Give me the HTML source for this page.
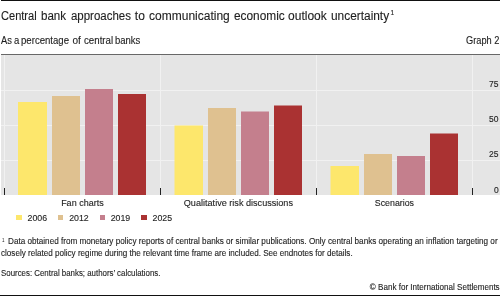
<!DOCTYPE html>
<html><head><meta charset="utf-8">
<style>
html,body{margin:0;padding:0;}
body{width:500px;height:296px;position:relative;overflow:hidden;background:#fff;font-family:"Liberation Sans",sans-serif;color:#1e1e1e;}
.a{position:absolute;white-space:nowrap;line-height:1;filter:grayscale(1);}
.a{-webkit-text-stroke:0.12px currentColor;}
.r{position:absolute;}
</style></head><body>
<div class="r" style="left:1px;top:0;width:499px;height:1px;background:#111;"></div>
<div class="a tw" style="left:0.7px;top:10.2px;font-size:12px;transform:scaleX(0.922);transform-origin:0 0;">Central</div>
<div class="a tw" style="left:41.4px;top:10.2px;font-size:12px;transform:scaleX(0.964);transform-origin:0 0;">bank</div>
<div class="a tw" style="left:71px;top:10.2px;font-size:12px;transform:scaleX(0.955);transform-origin:0 0;">approaches</div>
<div class="a tw" style="left:134.8px;top:10.2px;font-size:12px;transform:scaleX(1);transform-origin:0 0;">to</div>
<div class="a tw" style="left:149.1px;top:10.2px;font-size:12px;transform:scaleX(1);transform-origin:0 0;">communicating</div>
<div class="a tw" style="left:234px;top:10.2px;font-size:12px;transform:scaleX(0.988);transform-origin:0 0;">economic</div>
<div class="a tw" style="left:288.1px;top:10.2px;font-size:12px;transform:scaleX(1);transform-origin:0 0;">outlook</div>
<div class="a tw" style="left:331.2px;top:10.2px;font-size:12px;transform:scaleX(0.99);transform-origin:0 0;">uncertainty</div>
<div class="a tw" style="left:390.6px;top:9.7px;font-size:6.6px;">1</div>
<div class="a sw" style="left:1.1px;top:35.7px;font-size:10px;transform:scaleX(0.93);transform-origin:0 0;">As</div>
<div class="a sw" style="left:13.8px;top:35.7px;font-size:10px;transform:scaleX(0.95);transform-origin:0 0;">a</div>
<div class="a sw" style="left:20.6px;top:35.7px;font-size:10px;transform:scaleX(0.96);transform-origin:0 0;">percentage</div>
<div class="a sw" style="left:72.4px;top:35.7px;font-size:10px;transform:scaleX(1);transform-origin:0 0;">of</div>
<div class="a sw" style="left:84px;top:35.7px;font-size:10px;transform:scaleX(0.97);transform-origin:0 0;">central</div>
<div class="a sw" style="left:115.4px;top:35.7px;font-size:10px;transform:scaleX(0.95);transform-origin:0 0;">banks</div>
<div class="a g2" id="g2" style="left:465.9px;top:35.6px;font-size:10px;transform:scaleX(0.925);transform-origin:0 0;">Graph 2</div>
<div class="r" style="left:1px;top:54px;width:499px;height:1px;background:#686868;"></div>
<svg class="r" style="left:0;top:55px;" width="500" height="140" viewBox="0 55 500 140">
<rect x="1" y="55" width="499" height="140" fill="#e5e5e5"/>
<g fill="#f1f1f1">
<rect x="1" y="90" width="499" height="1"/>
<rect x="1" y="125" width="499" height="1"/>
<rect x="1" y="160" width="499" height="1"/>
<rect x="4" y="55" width="1" height="140"/>
<rect x="160" y="55" width="1" height="140"/>
<rect x="316" y="55" width="1" height="140"/>
<rect x="472" y="55" width="1" height="140"/>
</g>
<g>
<rect x="18" y="102" width="29" height="93" fill="#fde76c"/>
<rect x="52" y="96" width="28" height="99" fill="#dfc190"/>
<rect x="85" y="89" width="28" height="106" fill="#c47f8d"/>
<rect x="118" y="94" width="28" height="101" fill="#aa3232"/>

<rect x="174.5" y="125.5" width="28.5" height="69.5" fill="#fde76c"/>
<rect x="208" y="108" width="28" height="87" fill="#dfc190"/>
<rect x="241" y="111.5" width="28" height="83.5" fill="#c47f8d"/>
<rect x="274" y="105.5" width="28" height="89.5" fill="#aa3232"/>

<rect x="330.5" y="166" width="28.5" height="29" fill="#fde76c"/>
<rect x="364" y="154" width="28" height="41" fill="#dfc190"/>
<rect x="397" y="156" width="28" height="39" fill="#c47f8d"/>
<rect x="430" y="133.5" width="28" height="61.5" fill="#aa3232"/>
</g>
<g fill="#222">
<rect x="4" y="188" width="1" height="7"/>
<rect x="160" y="188" width="1" height="7"/>
<rect x="316" y="188" width="1" height="7"/>
<rect x="472" y="188" width="1" height="7"/>
</g>
</svg>
<div class="a" style="left:489px;top:80px;font-size:8.5px;">75</div>
<div class="a" style="left:489px;top:115px;font-size:8.5px;">50</div>
<div class="a" style="left:489px;top:150px;font-size:8.5px;">25</div>
<div class="a" style="left:494px;top:186px;font-size:8.5px;">0</div>

<div class="a" style="left:4.4px;width:156px;text-align:center;top:199.4px;font-size:9px;">Fan charts</div>
<div class="a" style="left:160.4px;width:156px;text-align:center;top:199.4px;font-size:9.1px;">Qualitative risk discussions</div>
<div class="a" style="left:316.4px;width:156px;text-align:center;top:199.4px;font-size:8.8px;">Scenarios</div>

<div class="r" style="left:16.3px;top:215.4px;width:5.4px;height:5px;background:#fde76c;"></div>
<div class="a" style="left:27.5px;top:213.5px;font-size:8.8px;">2006</div>
<div class="r" style="left:58.1px;top:215.4px;width:5.4px;height:5px;background:#dfc190;"></div>
<div class="a" style="left:69.2px;top:213.5px;font-size:8.8px;">2012</div>
<div class="r" style="left:99.8px;top:215.4px;width:5.4px;height:5px;background:#c47f8d;"></div>
<div class="a" style="left:110.7px;top:213.5px;font-size:8.8px;">2019</div>
<div class="r" style="left:141.2px;top:215.4px;width:5.4px;height:5px;background:#aa3232;"></div>
<div class="a" style="left:152.5px;top:213.5px;font-size:8.8px;">2025</div>

<div class="a" style="left:1.5px;top:236.9px;font-size:6px;-webkit-text-stroke:0;transform:scaleX(0.75);transform-origin:0 0;">1</div>
<div class="a fn" style="left:8.3px;top:237.4px;font-size:8.4px;transform:scaleX(0.972);transform-origin:0 0;">Data obtained from monetary policy reports of central banks or similar publications. Only central banks operating an inflation targeting or</div>
<div class="a fn" style="left:1px;top:249.4px;font-size:8.4px;transform:scaleX(0.966);transform-origin:0 0;">closely related policy regime during the relevant time frame are included. See endnotes for details.</div>
<div class="a fs" style="left:1px;top:268.6px;font-size:8.4px;transform:scaleX(0.94);transform-origin:0 0;">Sources: Central banks; authors’ calculations.</div>
<div class="a fs" style="right:0px;top:283.2px;font-size:8.4px;transform:scaleX(0.964);transform-origin:100% 0;">© Bank for International Settlements</div>
<div class="r" style="left:0;top:294.5px;width:500px;height:1.5px;background:#111;"></div>
</body></html>
